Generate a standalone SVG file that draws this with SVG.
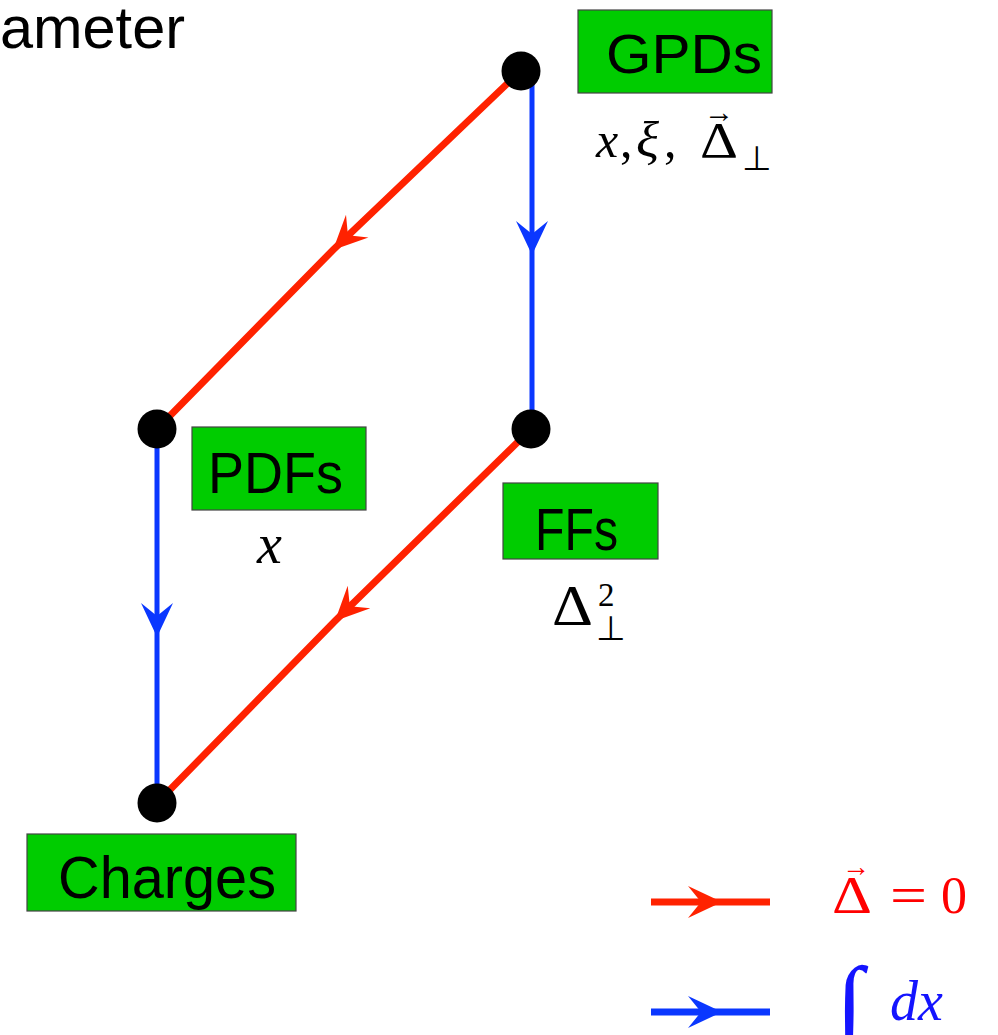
<svg xmlns="http://www.w3.org/2000/svg" width="998" height="1035" viewBox="0 0 998 1035">
<style>
.box{fill:#00cc00;stroke:#444;stroke-width:1.2}
.lbl{font-family:"Liberation Sans",Arial,sans-serif;fill:#000}
.math{font-family:"Liberation Serif","Times New Roman",serif;fill:#000}
.it{font-style:italic}
.red{stroke:#ff2200;stroke-width:7;fill:none}
.blue{stroke:#0a37ff;stroke-width:5;fill:none}
.dot{fill:#000}
.rt{fill:#ff0000}
.bt{fill:#1414ff}
</style>
<defs>
<marker id="ar" markerUnits="userSpaceOnUse" markerWidth="40" markerHeight="40" viewBox="-36 -20 40 40" refX="0" refY="0" orient="auto" overflow="visible">
<path d="M0,0 L-34,-16 L-21,0 L-34,16 Z" fill="#ff2200"/>
</marker>
<marker id="ab" markerUnits="userSpaceOnUse" markerWidth="40" markerHeight="40" viewBox="-36 -20 40 40" refX="0" refY="0" orient="auto" overflow="visible">
<path d="M0,0 L-34,-16 L-21,0 L-34,16 Z" fill="#0a37ff"/>
</marker>
</defs>
<text class="lbl" x="0" y="48" font-size="59" textLength="185" lengthAdjust="spacingAndGlyphs">ameter</text>
<g id="connectors">
<path class="red" d="M533,59 L333,250 L157,429" marker-mid="url(#ar)"/>
<path class="blue" d="M532,72 L532,255 L532,429" marker-mid="url(#ab)"/>
<path class="red" d="M531,429 L335,621 L157,803" marker-mid="url(#ar)"/>
<path class="blue" d="M157,429 L157,637 L157,803" marker-mid="url(#ab)"/>
</g>
<g id="gpds">
<circle class="dot" cx="521" cy="71" r="19.5"/>
<rect class="box" x="578" y="10" width="194" height="83"/>
<text class="lbl" x="606" y="73" font-size="56" textLength="156" lengthAdjust="spacingAndGlyphs">GPDs</text>
<text class="math" y="157" font-size="50"><tspan class="it" x="596">x</tspan><tspan x="620">,</tspan><tspan class="it" x="636" textLength="23" lengthAdjust="spacingAndGlyphs">ξ</tspan><tspan x="664">,</tspan><tspan x="700" textLength="38" lengthAdjust="spacingAndGlyphs">Δ</tspan></text>
<text class="math" x="719" y="122" font-size="30" text-anchor="middle">→</text>
<text class="math" x="742" y="170" font-size="34">⊥</text>
</g>
<g id="pdfs">
<circle class="dot" cx="157" cy="429" r="19.5"/>
<rect class="box" x="192" y="427" width="174" height="83"/>
<text class="lbl" x="208" y="493" font-size="58" textLength="135" lengthAdjust="spacingAndGlyphs">PDFs</text>
<text class="math it" x="257" y="563" font-size="56">x</text>
</g>
<g id="ffs">
<circle class="dot" cx="531" cy="429" r="19.5"/>
<rect class="box" x="503" y="483" width="155" height="76"/>
<text class="lbl" x="535" y="550" font-size="60" textLength="83" lengthAdjust="spacingAndGlyphs">FFs</text>
<text class="math" x="552" y="625" font-size="58" textLength="41" lengthAdjust="spacingAndGlyphs">Δ</text>
<text class="math" x="598" y="606" font-size="33">2</text>
<text class="math" x="596" y="640" font-size="34">⊥</text>
</g>
<g id="charges">
<circle class="dot" cx="157" cy="803" r="19.5"/>
<rect class="box" x="27" y="834" width="269" height="77"/>
<text class="lbl" x="58" y="898" font-size="60" textLength="218" lengthAdjust="spacingAndGlyphs">Charges</text>
</g>
<g id="legend">
<path class="red" d="M651,902 L722,902 L770,902" marker-mid="url(#ar)"/>
<path class="red" d="M651,1012 L722,1012 L770,1012" marker-mid="url(#ab)" style="stroke:#0a37ff"/>
<text class="math rt" x="832" y="913" font-size="52" textLength="40" lengthAdjust="spacingAndGlyphs">Δ</text>
<text class="math rt" x="856" y="876" font-size="28" text-anchor="middle">→</text>
<text class="math rt" x="890" y="913" font-size="52" textLength="37" lengthAdjust="spacingAndGlyphs">=</text>
<text class="math rt" x="941" y="913" font-size="52">0</text>
<text class="math it bt" x="836" y="1036" font-size="100">∫</text>
<text class="math it bt" x="890" y="1020" font-size="56">dx</text>
</g>
</svg>
